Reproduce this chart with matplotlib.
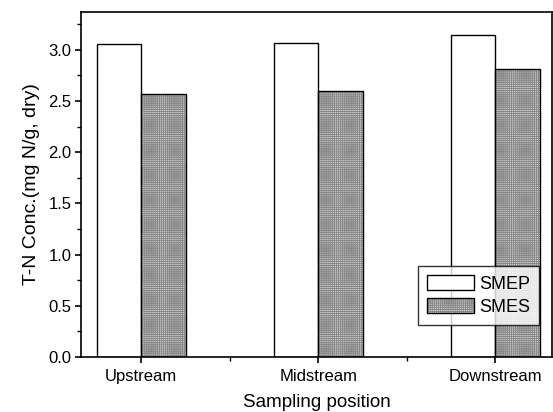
import matplotlib
matplotlib.use("Agg")
import matplotlib.pyplot as plt
import matplotlib.colors as mcolors
from matplotlib.patches import Patch
import numpy as np

plt.rcParams['font.family'] = ['Liberation Sans', 'DejaVu Sans']
plt.rcParams['hatch.linewidth'] = 0.7

positions = ["Upstream", "Midstream", "Downstream"]
smep = [3.06, 3.07, 3.14]
smes = [2.57, 2.60, 2.81]
series_labels = ["SMEP", "SMES"]

TEX_FACE = '#d4d4d4'
TEX_LINE = '#8a8a8a'
TEX_HATCH = '++++++++'

fig = plt.figure(figsize=(5.53, 4.12), dpi=100)
ax = fig.add_axes([0.1465, 0.1335, 0.852, 0.8375])

x = np.arange(1, len(positions) + 1)
w = 0.25
ax.bar(x - w / 2, smep, width=w, facecolor='white', edgecolor='black',
       linewidth=1.0)
# textured fill drawn first, black outline on top
ax.bar(x + w / 2, smes, width=w, facecolor=TEX_FACE, edgecolor=TEX_LINE,
       hatch=TEX_HATCH, linewidth=0)
ax.bar(x + w / 2, smes, width=w, facecolor='none', edgecolor='black',
       linewidth=1.0)

ax.set_xlim(0.66, 3.32)
ax.set_ylim(0, 3.37)
ax.set_xticks(x)
ax.set_xticklabels(positions, fontsize=12)
ax.set_xticks([1.5, 2.5], minor=True)
ax.set_yticks(np.arange(0, 3.01, 0.5))
ax.set_yticklabels([f"{v:.1f}" for v in np.arange(0, 3.01, 0.5)], fontsize=12)
ax.set_yticks(np.arange(0.25, 3.3, 0.5), minor=True)
ax.tick_params(axis='both', which='major', direction='out', length=4, width=1.2)
ax.tick_params(axis='both', which='minor', direction='out', length=3, width=1.0)
ax.tick_params(axis='x', pad=5)
ax.tick_params(axis='y', pad=3)

for s in ax.spines.values():
    s.set_linewidth(1.2)

ax.set_ylabel("T-N Conc.(mg N/g, dry)", fontsize=14, labelpad=6)
ax.set_xlabel("Sampling position", fontsize=13.5, labelpad=7)

handles = [Patch(facecolor='white', edgecolor='black', linewidth=1.0),
           Patch(facecolor=TEX_FACE, edgecolor=TEX_LINE, hatch=TEX_HATCH,
                 linewidth=0)]
leg = ax.legend(handles, series_labels, loc='lower right',
                bbox_to_anchor=(0.972, 0.093), fontsize=13,
                frameon=True, fancybox=False, edgecolor='black',
                handlelength=2.6, handleheight=0.9, handletextpad=0.3,
                borderpad=0.5, labelspacing=0.3, borderaxespad=0)
leg.get_frame().set_linewidth(1.0)
# black outline on the textured swatch while keeping its grey texture
for p in leg.get_patches()[1:]:
    p.set_edgecolor('black')
    p.set_linewidth(1.0)
    p._hatch_color = mcolors.to_rgba(TEX_LINE)

fig.savefig("out.png", dpi=100)
